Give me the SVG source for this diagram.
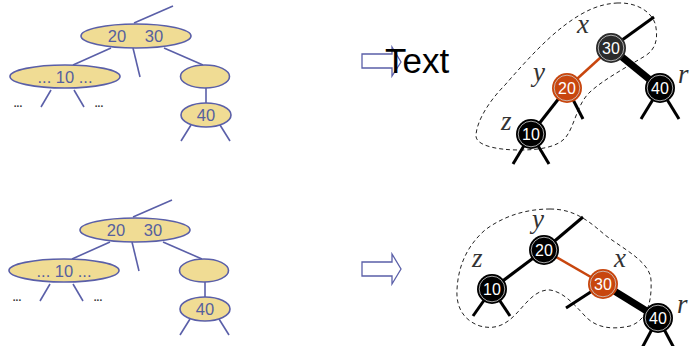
<svg xmlns="http://www.w3.org/2000/svg" width="692" height="346" viewBox="0 0 692 346">
  <style>
    .edge { stroke: #5a5fa8; stroke-width: 1.6; fill: none; }
    .bnode { fill: #f0dc94; stroke: #5a5fa8; stroke-width: 1.6; }
    .btxt { font-family: "Liberation Sans", Arial, sans-serif; font-size: 16.5px; fill: #56609e; text-anchor: middle; }
    .dots { font-family: "Liberation Sans", Arial, sans-serif; font-size: 10px; fill: #333; text-anchor: middle; font-weight: bold; }
    .arrow { fill: #ffffff; stroke: #5a5fa8; stroke-width: 1.3; }
    .blk { stroke: #000; stroke-width: 3; fill: none; }
    .thick { stroke: #000; stroke-width: 7; fill: none; }
    .red { stroke: #c8460e; stroke-width: 2.5; fill: none; }
    .blob { fill: none; stroke: #222; stroke-width: 1; stroke-dasharray: 4 3; }
    .rb { stroke: #cfcfcf; stroke-width: 0.8; fill: none; }
    .rbtxt { font-family: "Liberation Sans", Arial, sans-serif; font-size: 16px; fill: #ffffff; text-anchor: middle; }
    .var { font-family: "Liberation Serif", "Times New Roman", serif; font-style: italic; font-size: 27px; fill: #333; }
  </style>
  <defs>
    <!-- 2-3-4 tree fragment: root (20 30), left (...10...), right (empty), child 40 -->
    <g id="btree">
      <g id="bt-edges">
        <line class="edge" x1="134" y1="23" x2="173" y2="6"/>
        <line class="edge" x1="111" y1="48" x2="73" y2="65"/>
        <line class="edge" x1="133" y1="48" x2="140" y2="77"/>
        <line class="edge" x1="164" y1="48" x2="203" y2="65"/>
        <line class="edge" x1="51" y1="90" x2="41" y2="107"/>
        <line class="edge" x1="74" y1="90" x2="84" y2="107"/>
        <line class="edge" x1="206" y1="88" x2="206" y2="103"/>
        <line class="edge" x1="191" y1="125" x2="181" y2="141"/>
        <line class="edge" x1="220" y1="125" x2="230" y2="141"/>
      </g>
      <g id="bt-root">
        <ellipse class="bnode" cx="136" cy="36" rx="55" ry="12"/>
        <text class="btxt" x="117" y="42">20</text>
        <text class="btxt" x="154" y="42">30</text>
      </g>
      <g id="bt-left">
        <ellipse class="bnode" cx="65" cy="76.5" rx="55" ry="11.5"/>
        <text class="btxt" x="65" y="82.5">... 10 ...</text>
      </g>
      <g id="bt-right">
        <ellipse class="bnode" cx="205" cy="76.5" rx="24.5" ry="11.5"/>
      </g>
      <g id="bt-40">
        <ellipse class="bnode" cx="206" cy="115" rx="25" ry="12"/>
        <text class="btxt" x="206" y="121">40</text>
      </g>
      <text class="dots" x="18" y="107">...</text>
      <text class="dots" x="99" y="107">...</text>
    </g>
    <g id="rbring"><circle class="rb" r="12.8"/></g>
  </defs>

  <!-- left column: two copies of the 2-3-4 tree -->
  <use href="#btree"/>
  <use href="#btree" transform="translate(-1,194)"/>

  <!-- transformation arrows -->
  <path id="arrow-top" class="arrow" d="M362,54 H392 V47 L401,62 L392,76 V68 H362 Z"/>
  <text x="385" y="73" font-family="Liberation Sans, Arial, sans-serif" font-size="35" fill="#000">Text</text>
  <path id="arrow-bottom" class="arrow" d="M362,262 H392 V254 L401,269 L392,284 V276 H362 Z"/>

  <!-- top right: red-black tree before rotation -->
  <g id="rb-top">
    <path class="blob" d="M617,3 C640,2 655,15 656,28 C658,40 655,50 645,56 C625,68 603,80 590,92 C577,104 575,125 566,137 C558,147 540,150 520,150 C495,150 475,145 476,135 C477,120 490,100 505,85 C525,62 545,40 565,25 C585,10 600,4 617,3 Z"/>
    <g id="rb-top-edges">
      <line class="blk" x1="611" y1="48" x2="654" y2="17"/>
      <line class="thick" x1="611" y1="48" x2="660" y2="88"/>
      <line class="red" x1="611" y1="48" x2="567" y2="88"/>
      <line class="blk" x1="567" y1="88" x2="531" y2="134"/>
      <line class="blk" x1="567" y1="88" x2="583" y2="119"/>
      <line class="blk" x1="531" y1="134" x2="513" y2="164"/>
      <line class="blk" x1="531" y1="134" x2="549" y2="164"/>
      <line class="blk" x1="660" y1="88" x2="641" y2="119"/>
      <line class="blk" x1="660" y1="88" x2="679" y2="119"/>
    </g>
    <g id="t-n30">
      <circle cx="611" cy="48" r="15" fill="#2b2b2b"/>
      <use href="#rbring" x="611" y="48"/>
      <text class="rbtxt" x="611" y="54">30</text>
    </g>
    <g id="t-n20">
      <circle cx="567" cy="88" r="15" fill="#c8460e"/>
      <use href="#rbring" x="567" y="88"/>
      <text class="rbtxt" x="567" y="94">20</text>
    </g>
    <g id="t-n40">
      <circle cx="660" cy="88" r="15" fill="#000"/>
      <use href="#rbring" x="660" y="88"/>
      <text class="rbtxt" x="660" y="94">40</text>
    </g>
    <g id="t-n10">
      <circle cx="531" cy="134" r="15" fill="#000"/>
      <use href="#rbring" x="531" y="134"/>
      <text class="rbtxt" x="531" y="140">10</text>
    </g>
    <text class="var" x="577" y="33">x</text>
    <text class="var" x="533" y="81">y</text>
    <text class="var" x="501" y="130">z</text>
    <text class="var" x="678" y="83">r</text>
  </g>

  <!-- bottom right: red-black tree after rotation -->
  <g id="rb-bottom">
    <path class="blob" d="M550,209 C575,209 590,222 605,235 C625,250 650,262 651,280 C652,300 648,320 630,326 C612,330 596,328 585,316 C573,303 563,292 550,290 C535,289 525,305 515,315 C505,325 495,330 480,326 C462,320 456,305 457,290 C458,265 468,245 485,230 C505,215 528,209 550,209 Z"/>
    <g id="rb-bottom-edges">
      <line class="blk" x1="544" y1="250" x2="583" y2="217"/>
      <line class="blk" x1="544" y1="250" x2="492" y2="289"/>
      <line class="red" x1="544" y1="250" x2="603" y2="284"/>
      <line class="thick" x1="603" y1="284" x2="658" y2="318"/>
      <line class="blk" x1="603" y1="284" x2="566" y2="308"/>
      <line class="blk" x1="492" y1="289" x2="473" y2="316"/>
      <line class="blk" x1="492" y1="289" x2="510" y2="316"/>
      <line class="blk" x1="658" y1="318" x2="642" y2="348"/>
      <line class="blk" x1="658" y1="318" x2="674" y2="348"/>
    </g>
    <g id="b-n20">
      <circle cx="544" cy="250" r="15" fill="#000"/>
      <use href="#rbring" x="544" y="250"/>
      <text class="rbtxt" x="544" y="256">20</text>
    </g>
    <g id="b-n10">
      <circle cx="492" cy="289" r="15" fill="#000"/>
      <use href="#rbring" x="492" y="289"/>
      <text class="rbtxt" x="492" y="295">10</text>
    </g>
    <g id="b-n30">
      <circle cx="603" cy="284" r="15" fill="#c8460e"/>
      <use href="#rbring" x="603" y="284"/>
      <text class="rbtxt" x="603" y="290">30</text>
    </g>
    <g id="b-n40">
      <circle cx="658" cy="318" r="15" fill="#000"/>
      <use href="#rbring" x="658" y="318"/>
      <text class="rbtxt" x="658" y="324">40</text>
    </g>
    <text class="var" x="532" y="228">y</text>
    <text class="var" x="472" y="267">z</text>
    <text class="var" x="614" y="267">x</text>
    <text class="var" x="677" y="313">r</text>
  </g>
</svg>
